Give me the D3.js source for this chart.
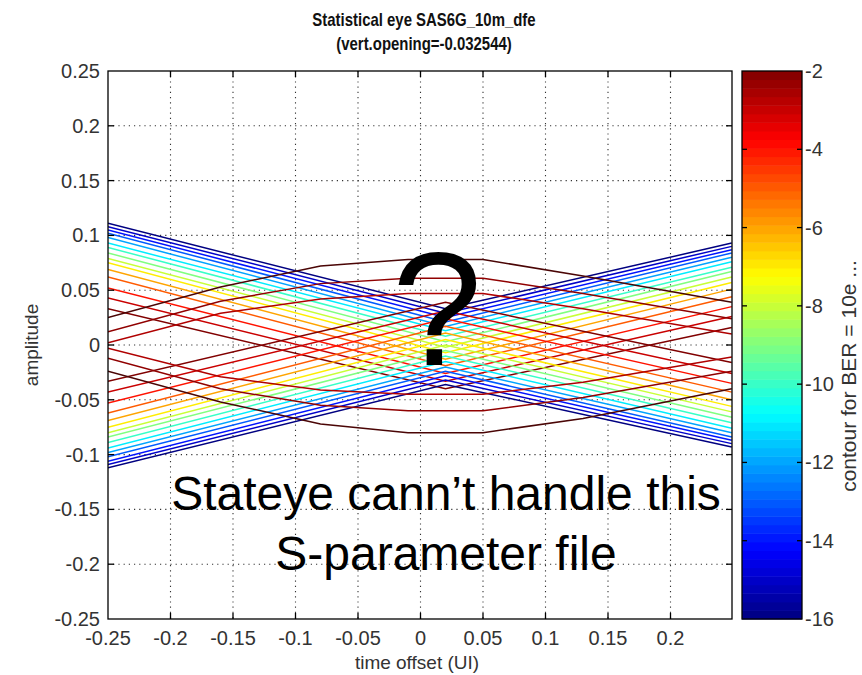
<!DOCTYPE html>
<html>
<head>
<meta charset="utf-8">
<script src="https://cdn.jsdelivr.net/npm/d3@7"></script>
<style>
  body { margin: 0; background: #fff; }
  text { font-family: "Liberation Sans", Arial, sans-serif; }
</style>
</head>
<body>
<svg id="chart" width="862" height="675"></svg>
<script>
// contour levels (log10 BER)
const levels = [-16, -15, -14, -13, -12, -11, -10, -9, -8, -7, -6, -5, -4, -3, -2]

// band contours, amplitude read at x = left edge, eye centre, right edge
const bandX = [-0.25, 0.02, 0.249]
// upper band (V shape, -16 on top)
const upperLeft  = [0.111, 0.108, 0.105, 0.102, 0.098, 0.093, 0.089, 0.084, 0.079, 0.075, 0.069, 0.062, 0.052, 0.043, 0.033]
const upperApex  = [0.033, 0.029, 0.025, 0.021, 0.017, 0.013, 0.008, 0.003, -0.002, -0.007, -0.013, -0.019, -0.026, -0.033, -0.040]
const upperRight = [0.093, 0.090, 0.087, 0.084, 0.080, 0.076, 0.071, 0.067, 0.062, 0.057, 0.051, 0.044, 0.035, 0.026, 0.016]
// lower band (inverted V, -16 at the bottom)
const lowerLeft  = [-0.112, -0.109, -0.106, -0.102, -0.098, -0.094, -0.089, -0.084, -0.080, -0.075, -0.069, -0.062, -0.053, -0.043, -0.033]
const lowerApex  = [-0.036, -0.032, -0.028, -0.024, -0.020, -0.015, -0.010, -0.005, 0.000, 0.005, 0.011, 0.017, 0.024, 0.031, 0.039]
const lowerRight = [-0.093, -0.090, -0.087, -0.084, -0.080, -0.076, -0.071, -0.066, -0.061, -0.056, -0.050, -0.043, -0.035, -0.026, -0.016]

// contours above -2 (dark red eye arcs)
const arcX = [-0.25, -0.16, -0.08, -0.01, 0.05, 0.13, 0.249]
const arcTop1 = [0.025, 0.053, 0.072, 0.078, 0.078, 0.063, 0.039]
const arcTop2 = [0.012, 0.040, 0.056, 0.061, 0.061, 0.047, 0.024]
const arcTop3 = [0.002, 0.029, 0.042, 0.047, 0.047, 0.033, 0.010]
const arcBot1 = [-0.024, -0.052, -0.072, -0.080, -0.080, -0.067, -0.040]
const arcBot2 = [-0.012, -0.040, -0.055, -0.060, -0.060, -0.048, -0.024]
const arcBot3 = [-0.003, -0.029, -0.041, -0.045, -0.045, -0.034, -0.011]

const xTicks = [-0.25, -0.2, -0.15, -0.1, -0.05, 0, 0.05, 0.1, 0.15, 0.2]
const xTickLabels = ['-0.25', '-0.2', '-0.15', '-0.1', '-0.05', '0', '0.05', '0.1', '0.15', '0.2']
const yTicks = [-0.25, -0.2, -0.15, -0.1, -0.05, 0, 0.05, 0.1, 0.15, 0.2, 0.25]
const yTickLabels = ['-0.25', '-0.2', '-0.15', '-0.1', '-0.05', '0', '0.05', '0.1', '0.15', '0.2', '0.25']
const cbTicks = [-16, -14, -12, -10, -8, -6, -4, -2]

const plot = {left: 108, right: 732, top: 71, bottom: 619}
const cb = {left: 742, right: 802}

const svg = d3.select('#chart')
svg.append('rect').attr('width', 862).attr('height', 675).attr('fill', '#fff')

const x = d3.scaleLinear().domain([-0.25, 0.2492]).range([plot.left, plot.right])
const y = d3.scaleLinear().domain([-0.25, 0.25]).range([plot.bottom, plot.top])

// jet colormap over the colorbar limits
const jet = d3.scaleLinear()
  .domain([-16, -14.25, -10.75, -7.25, -3.75, -2])
  .range(['#000080', '#0000ff', '#00ffff', '#ffff00', '#ff0000', '#800000'])
  .clamp(true)

svg.append('clipPath').attr('id', 'clip')
  .append('rect')
  .attr('x', plot.left).attr('y', plot.top)
  .attr('width', plot.right - plot.left).attr('height', plot.bottom - plot.top)

// grid
const grid = svg.append('g').attr('stroke', '#333').attr('stroke-width', 1.1)
  .attr('stroke-dasharray', '1.2,4')
grid.selectAll('.gx').data(xTicks.slice(1)).enter().append('line')
  .attr('x1', d => x(d)).attr('x2', d => x(d))
  .attr('y1', plot.top).attr('y2', plot.bottom)
grid.selectAll('.gy').data(yTicks.slice(1, -1)).enter().append('line')
  .attr('y1', d => y(d)).attr('y2', d => y(d))
  .attr('x1', plot.left).attr('x2', plot.right)

const line = d3.line().x(d => x(d[0])).y(d => y(d[1]))
const lines = svg.append('g').attr('clip-path', 'url(#clip)')
  .attr('fill', 'none').attr('stroke-width', 1.5)

function drawBand(left, apex, right) {
  levels.forEach(function(lv, i) {
    const pts = [[bandX[0], left[i]], [bandX[1], apex[i]], [bandX[2], right[i]]]
    lines.append('path').attr('d', line(pts)).attr('stroke', jet(lv))
  })
}
drawBand(upperLeft, upperApex, upperRight)
drawBand(lowerLeft, lowerApex, lowerRight)

const arcs = [[arcTop3, '#b00000'], [arcTop2, '#900000'], [arcTop1, '#4a0505'],
              [arcBot3, '#b00000'], [arcBot2, '#900000'], [arcBot1, '#4a0505']]
arcs.forEach(function(a) {
  lines.append('path').attr('d', line(arcX.map((v, i) => [v, a[0][i]]))).attr('stroke', a[1])
})

// axes box and ticks
const ax = svg.append('g').attr('stroke', '#000').attr('stroke-width', 1.3)
ax.append('rect').attr('x', plot.left).attr('y', plot.top)
  .attr('width', plot.right - plot.left).attr('height', plot.bottom - plot.top).attr('fill', 'none')
xTicks.slice(1).forEach(function(d) {
  ax.append('line').attr('x1', x(d)).attr('x2', x(d)).attr('y1', plot.bottom).attr('y2', plot.bottom - 6)
  ax.append('line').attr('x1', x(d)).attr('x2', x(d)).attr('y1', plot.top).attr('y2', plot.top + 6)
})
yTicks.slice(1, -1).forEach(function(d) {
  ax.append('line').attr('y1', y(d)).attr('y2', y(d)).attr('x1', plot.left).attr('x2', plot.left + 6)
  ax.append('line').attr('y1', y(d)).attr('y2', y(d)).attr('x1', plot.right).attr('x2', plot.right - 6)
})

const labels = svg.append('g').attr('fill', '#333').attr('font-size', 20)
labels.selectAll('.xl').data(xTicks).enter().append('text')
  .attr('x', d => x(d)).attr('y', 645).attr('text-anchor', 'middle')
  .text((d, i) => xTickLabels[i])
labels.selectAll('.yl').data(yTicks).enter().append('text')
  .attr('x', 100).attr('y', d => y(d) + 7).attr('text-anchor', 'end')
  .text((d, i) => yTickLabels[i])

svg.append('text').attr('x', 417).attr('y', 669).attr('text-anchor', 'middle')
  .attr('font-size', 19).attr('fill', '#333').text('time offset (UI)')
svg.append('text').attr('transform', 'translate(38,345) rotate(-90)').attr('text-anchor', 'middle')
  .attr('font-size', 19).attr('fill', '#333').text('amplitude')

// title
const title = svg.append('g').attr('font-weight', 'bold').attr('font-size', 18)
  .attr('text-anchor', 'middle').attr('fill', '#111')
title.append('text').attr('transform', 'translate(424,26) scale(0.83,1)').text('Statistical eye SAS6G_10m_dfe')
title.append('text').attr('transform', 'translate(424,50) scale(0.83,1)').text('(vert.opening=-0.032544)')

// colorbar
const cy = d3.scaleLinear().domain([-16, -2]).range([plot.bottom, plot.top])
const nBands = 64
const bandIdx = d3.range(nBands)
svg.append('g').selectAll('rect').data(bandIdx).enter().append('rect')
  .attr('x', cb.left).attr('width', cb.right - cb.left)
  .attr('y', i => cy(-16 + (i + 1) * 14 / nBands))
  .attr('height', (plot.bottom - plot.top) / nBands + 0.5)
  .attr('fill', i => jet(-16 + (i + 0.5) * 14 / nBands))
const cbax = svg.append('g').attr('stroke', '#000').attr('stroke-width', 1.3)
cbax.append('rect').attr('x', cb.left).attr('y', plot.top)
  .attr('width', cb.right - cb.left).attr('height', plot.bottom - plot.top).attr('fill', 'none')
cbTicks.slice(1, -1).forEach(function(d) {
  cbax.append('line').attr('x1', cb.right).attr('x2', cb.right - 5).attr('y1', cy(d)).attr('y2', cy(d))
  cbax.append('line').attr('x1', cb.left).attr('x2', cb.left + 5).attr('y1', cy(d)).attr('y2', cy(d))
})
labels.selectAll('.cl').data(cbTicks).enter().append('text')
  .attr('x', 805).attr('y', d => cy(d) + 7).text(d => d)
svg.append('text').attr('transform', 'translate(856,376) rotate(-90)').attr('text-anchor', 'middle')
  .attr('font-size', 21).attr('fill', '#333').text('contour for BER = 10e ...')

// overlay note
svg.append('text').attr('x', 437).attr('y', 365).attr('text-anchor', 'middle')
  .attr('font-size', 162).attr('fill', '#000').text('?')
svg.append('text').attr('x', 446).attr('y', 510).attr('text-anchor', 'middle')
  .attr('font-size', 48).attr('fill', '#000').text('Stateye cann\u2019t handle this')
svg.append('text').attr('x', 446).attr('y', 570).attr('text-anchor', 'middle')
  .attr('font-size', 48).attr('fill', '#000').text('S-parameter file')
</script>
</body>
</html>
